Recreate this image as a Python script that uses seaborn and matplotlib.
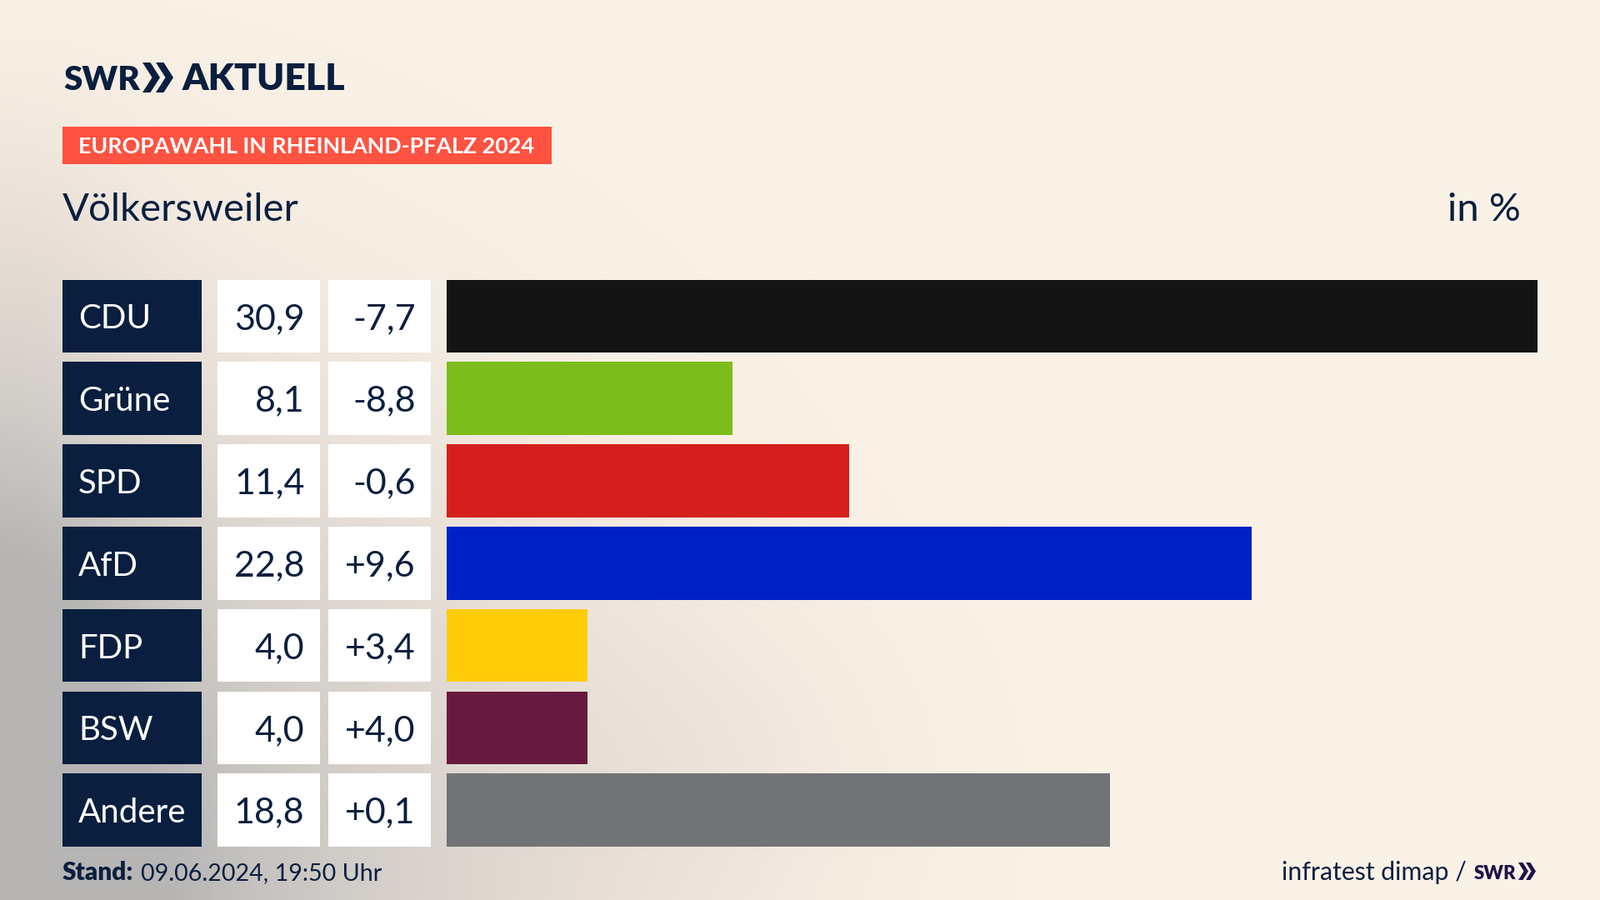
import numpy as np
import pandas as pd
import matplotlib
matplotlib.use("Agg")
import matplotlib.pyplot as plt
from matplotlib.colors import LinearSegmentedColormap
from matplotlib.patches import Polygon, Rectangle
import seaborn as sns

# data
parties = ["CDU", "Grüne", "SPD", "AfD", "FDP", "BSW", "Andere"]
shares = [30.9, 8.1, 11.4, 22.8, 4.0, 4.0, 18.8]
changes = [-7.7, -8.8, -0.6, 9.6, 3.4, 4.0, 0.1]
bar_colors = ["#141414", "#7BBD1A", "#D61F1C", "#0021C6", "#FFCC08", "#671A3F", "#717375"]

NAVY = "#0A1F3F"
CREAM = "#FBF2E7"
RED = "#FF5240"
FONT = "Lato"
W, H = 1920, 1080

sns.set_theme(style="white", rc={"font.family": FONT})
fig = plt.figure(figsize=(W / 100, H / 100), dpi=100)

# background gradient: grey corner bottom left fading into cream
bg = fig.add_axes([0, 0, 1, 1], zorder=0)
xx, yy = np.meshgrid(np.linspace(0, 1, 480), np.linspace(0, 1, 270))
corner = np.exp(-((xx / 0.33) ** 2 + ((1 - yy) / 0.55) ** 2))
left = 0.4 * np.exp(-(xx / 0.09) ** 2) * np.clip(yy * 1.6, 0, 1)
blob = 0.1 * np.exp(-(((xx - 0.44) / 0.14) ** 2 + ((yy - 0.86) / 0.2) ** 2))
shade = np.clip(corner + left + blob - 0.015, 0, 1)
cmap = LinearSegmentedColormap.from_list("bg", [CREAM, "#E6DED5", "#CFCBC7", "#B6B5B4"])
bg.imshow(shade, cmap=cmap, vmin=0, vmax=1, aspect="auto", extent=[0, W, H, 0])
bg.set_xlim(0, W)
bg.set_ylim(H, 0)
bg.axis("off")


def pixel_axes(x0, x1, y0=330, y1=1021.6):
    ax = fig.add_axes([x0 / W, 1 - y1 / H, (x1 - x0) / W, (y1 - y0) / H], zorder=2)
    return ax


def column(ax, values, palette, xmax):
    df = pd.DataFrame({"party": parties, "value": values})
    sns.barplot(data=df, x="value", y="party", hue="party", palette=palette, legend=False,
                width=0.885, saturation=1, linewidth=0, ax=ax)
    ax.set_xlim(0, xmax)
    ax.set_ylim(len(parties) - 0.5, -0.5)
    ax.axis("off")


def de_number(v, signed=False):
    txt = f"{v:+.1f}" if signed else f"{v:.1f}"
    return txt.replace(".", ",")


cell = [1] * len(parties)

# party name column
ax_names = pixel_axes(75, 242)
column(ax_names, cell, [NAVY] * len(parties), 1)
for i, name in enumerate(parties):
    ax_names.text(0.114, i, name, color="white", fontsize=29, ha="left", va="center_baseline")

# share column
ax_share = pixel_axes(261, 384)
column(ax_share, cell, ["white"] * len(parties), 1)
for i, v in enumerate(shares):
    ax_share.text(0.85, i, de_number(v), color=NAVY, fontsize=31, ha="right", va="center_baseline")

# change column
ax_change = pixel_axes(394, 517)
column(ax_change, cell, ["white"] * len(parties), 1)
for i, v in enumerate(changes):
    ax_change.text(0.85, i, de_number(v, signed=True), color=NAVY, fontsize=31, ha="right", va="center_baseline")

# the actual bars
ax_bars = pixel_axes(536, 1845)
column(ax_bars, shares, bar_colors, max(shares))

# header and footer, placed in pixels
top = fig.add_axes([0, 0, 1, 1], zorder=3)
top.set_xlim(0, W)
top.set_ylim(H, 0)
top.axis("off")


def chevrons(x, y0, y1, w, gap, color):
    mid = (y0 + y1) / 2
    for k in range(2):
        xs = x + k * gap
        top.add_patch(Polygon([(xs, y0), (xs + w * 0.45, y0), (xs + w, mid), (xs + w * 0.45, y1),
                               (xs, y1), (xs + w * 0.55, mid)], closed=True, color=color, lw=0))


top.text(76, 108, "SWR", color=NAVY, fontsize=29, fontweight="black", ha="left", va="baseline")
chevrons(171, 75, 111, 21, 16, NAVY)
top.text(219, 108, "AKTUELL", color=NAVY, fontsize=32, fontweight="black", ha="left", va="baseline")

top.add_patch(Rectangle((75, 152), 587, 45, color=RED, lw=0))
top.text(94, 184, "EUROPAWAHL IN RHEINLAND-PFALZ 2024", color="white", fontsize=19.4,
         fontweight="bold", ha="left", va="baseline")

top.text(75, 265, "Völkersweiler", color=NAVY, fontsize=34, ha="left", va="baseline")
top.text(1825, 265, "in %", color=NAVY, fontsize=34, ha="right", va="baseline")

top.text(75, 1056, "Stand:", color=NAVY, fontsize=21.5, fontweight="black", ha="left", va="baseline")
top.text(169, 1056, "09.06.2024, 19:50 Uhr", color=NAVY, fontsize=20.6, ha="left", va="baseline")

top.text(1760, 1056, "infratest dimap /", color=NAVY, fontsize=21.8, ha="right", va="baseline")
top.text(1769, 1055, "SWR", color="#1F1147", fontsize=16, fontweight="black", ha="left", va="baseline")
chevrons(1822, 1035, 1056, 12, 9, "#1F1147")

fig.savefig("out.png", dpi=100)
plt.close(fig)
